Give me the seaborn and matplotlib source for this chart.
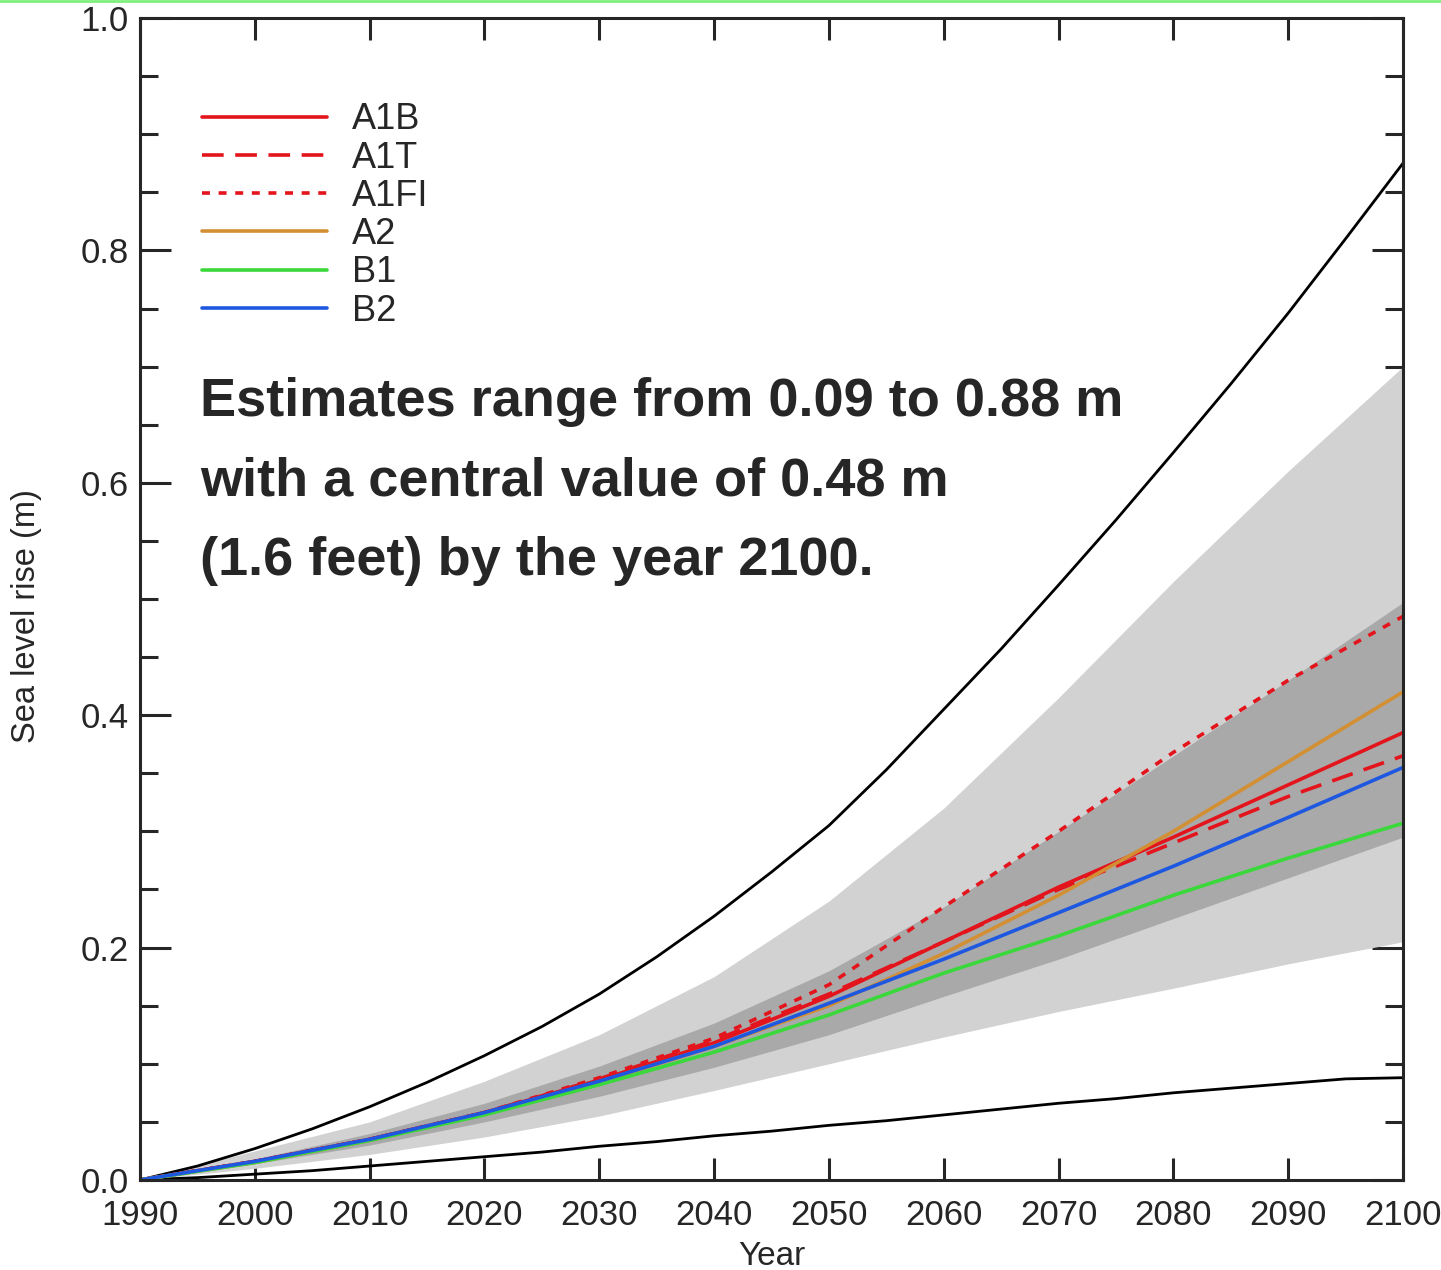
import matplotlib
matplotlib.use("Agg")
import matplotlib.pyplot as plt
import matplotlib.ticker as ticker
from matplotlib.lines import Line2D
import seaborn as sns

# values (sea level rise in m)
years = [1990, 2000, 2010, 2020, 2030, 2040, 2050, 2060, 2070, 2080, 2090, 2100]

a1b = [0, 0.016, 0.035, 0.058, 0.086, 0.118, 0.158, 0.205, 0.252, 0.295, 0.340, 0.385]
a1t = [0, 0.016, 0.035, 0.058, 0.087, 0.120, 0.160, 0.205, 0.250, 0.290, 0.330, 0.365]
a1fi = [0, 0.016, 0.035, 0.058, 0.088, 0.122, 0.168, 0.235, 0.300, 0.368, 0.430, 0.485]
a2 = [0, 0.015, 0.034, 0.057, 0.084, 0.115, 0.150, 0.195, 0.245, 0.300, 0.360, 0.420]
b1 = [0, 0.015, 0.034, 0.056, 0.082, 0.110, 0.142, 0.178, 0.210, 0.245, 0.277, 0.307]
b2 = [0, 0.016, 0.035, 0.058, 0.085, 0.115, 0.152, 0.190, 0.230, 0.270, 0.312, 0.355]

# outer (light) and inner (dark) uncertainty ranges
outer_lo = [0, 0.010, 0.022, 0.037, 0.055, 0.077, 0.100, 0.123, 0.145, 0.165, 0.186, 0.205]
outer_hi = [0, 0.025, 0.050, 0.085, 0.125, 0.175, 0.240, 0.320, 0.415, 0.515, 0.610, 0.700]
inner_lo = [0, 0.014, 0.030, 0.050, 0.072, 0.097, 0.125, 0.158, 0.190, 0.225, 0.260, 0.295]
inner_hi = [0, 0.018, 0.040, 0.066, 0.098, 0.135, 0.180, 0.235, 0.300, 0.365, 0.430, 0.497]

# full range envelope (black), read every 5 years
env_years = [1990, 1995, 2000, 2005, 2010, 2015, 2020, 2025, 2030, 2035, 2040, 2045,
             2050, 2055, 2060, 2065, 2070, 2075, 2080, 2085, 2090, 2095, 2100]
env_hi = [0, 0.012, 0.027, 0.044, 0.063, 0.084, 0.107, 0.132, 0.160, 0.192, 0.227, 0.265,
          0.305, 0.353, 0.405, 0.457, 0.512, 0.568, 0.626, 0.685, 0.746, 0.810, 0.875]
env_lo = [0, 0.002, 0.005, 0.008, 0.012, 0.016, 0.020, 0.024, 0.029, 0.033, 0.038, 0.042,
          0.047, 0.051, 0.056, 0.061, 0.066, 0.070, 0.075, 0.079, 0.083, 0.087, 0.088]

scenarios = ["A1B", "A1T", "A1FI", "A2", "B1", "B2"]
series = [a1b, a1t, a1fi, a2, b1, b2]
colors = ["#e3141c", "#e3141c", "#e3141c", "#d38f33", "#3ad83a", "#1f58e0"]
styles = ["-", (0, (6, 3.2)), (0, (2.2, 2.4)), "-", "-", "-"]

note = ("Estimates range from 0.09 to 0.88 m\n"
        "with a central value of 0.48 m\n"
        "(1.6 feet) by the year 2100.")

sns.set_style("ticks")
plt.rcParams['font.family'] = ['Liberation Sans', 'DejaVu Sans']

fig = plt.figure(figsize=(14.41, 12.70), dpi=100)
ax = fig.add_axes([0.0972, 0.0709, 0.8764, 0.9149])

ax.fill_between(years, outer_lo, outer_hi, color="#d2d2d2", lw=0)
ax.fill_between(years, inner_lo, inner_hi, color="#a9a9a9", lw=0)

sns.lineplot(x=env_years, y=env_hi, color="black", lw=2, ax=ax)
sns.lineplot(x=env_years, y=env_lo, color="black", lw=2, ax=ax)

for name, vals, col, ls in zip(scenarios, series, colors, styles):
    sns.lineplot(x=years, y=vals, color=col, linestyle=ls, lw=2.6, ax=ax, label=name)

ax.set_xlim(1990, 2100)
ax.set_ylim(0, 1.0)
ax.xaxis.set_major_locator(ticker.MultipleLocator(10))
ax.yaxis.set_major_locator(ticker.MultipleLocator(0.2))
ax.yaxis.set_minor_locator(ticker.MultipleLocator(0.05))
ax.yaxis.set_major_formatter(ticker.FormatStrFormatter('%.1f'))
ax.tick_params(axis='both', which='both', direction='in', top=True, right=True,
               width=2.2, labelsize=25)
ax.tick_params(axis='x', which='major', length=16, pad=14)
ax.tick_params(axis='y', which='major', length=22, pad=8)
ax.tick_params(axis='y', which='minor', length=13)
for sp in ax.spines.values():
    sp.set_linewidth(2.2)

ax.set_xlabel("Year", fontsize=24, labelpad=6)
ax.set_ylabel("Sea level rise (m)", fontsize=23.5)
ax.yaxis.set_label_coords(-0.078, 0.485)

leg = ax.legend(loc='upper left', bbox_to_anchor=(0.035, 0.943), frameon=False,
                fontsize=26, handlelength=3.45, handletextpad=0.7, labelspacing=0.09,
                borderpad=0)

ax.text(1995.2, 0.691, note, fontsize=39, fontweight='bold', va='top', ha='left',
        linespacing=1.76)

fig.add_artist(Line2D([0, 1], [0.999, 0.999], color="#7ef07e", lw=2))

fig.savefig("out.png", dpi=100)
